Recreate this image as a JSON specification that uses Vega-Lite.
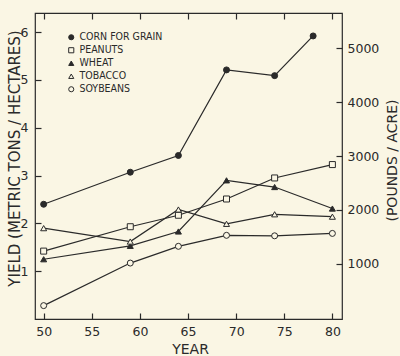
{
  "$schema": "https://vega.github.io/schema/vega-lite/v6.json",
  "width": 307,
  "height": 306,
  "autosize": "none",
  "padding": {"left": 35, "top": 13, "right": 58, "bottom": 37},
  "background": "#faf6e4",
  "title": {"text": "U.S.A.", "anchor": "start", "dx": 77, "offset": 11, "fontSize": 13, "font": "DejaVu Sans", "fontWeight": "normal", "color": "#2a2a2a"},
  "config": {
    "view": {"stroke": "#2a2a2a", "strokeWidth": 1.2},
    "axis": {
      "domain": false, "grid": false,
      "tickColor": "#2a2a2a", "tickSize": -6, "tickWidth": 1.2,
      "labelFont": "DejaVu Sans", "labelFontSize": 12.5, "labelColor": "#2a2a2a",
      "titleFont": "DejaVu Sans", "titleFontWeight": "normal", "titleColor": "#2a2a2a", "titleFontSize": 14
    },
    "legend": {
      "symbolSize": 26, "symbolStrokeWidth": 1,
      "labelFont": "Liberation Sans Narrow, DejaVu Sans Condensed, Liberation Sans",
      "labelFontSize": 10.5, "labelColor": "#2a2a2a", "labelOffset": 3,
      "rowPadding": 2, "padding": 0
    }
  },
  "datasets": {
    "yields": [
      {"crop": "CORN FOR GRAIN", "year": 50, "yield": 2.40},
      {"crop": "CORN FOR GRAIN", "year": 59, "yield": 3.07},
      {"crop": "CORN FOR GRAIN", "year": 64, "yield": 3.42},
      {"crop": "CORN FOR GRAIN", "year": 69, "yield": 5.21},
      {"crop": "CORN FOR GRAIN", "year": 74, "yield": 5.09},
      {"crop": "CORN FOR GRAIN", "year": 78, "yield": 5.92},
      {"crop": "PEANUTS", "year": 50, "yield": 1.42},
      {"crop": "PEANUTS", "year": 59, "yield": 1.93},
      {"crop": "PEANUTS", "year": 64, "yield": 2.17},
      {"crop": "PEANUTS", "year": 69, "yield": 2.51},
      {"crop": "PEANUTS", "year": 74, "yield": 2.95},
      {"crop": "PEANUTS", "year": 80, "yield": 3.23},
      {"crop": "WHEAT", "year": 50, "yield": 1.25},
      {"crop": "WHEAT", "year": 59, "yield": 1.53},
      {"crop": "WHEAT", "year": 64, "yield": 1.83},
      {"crop": "WHEAT", "year": 69, "yield": 2.90},
      {"crop": "WHEAT", "year": 74, "yield": 2.76},
      {"crop": "WHEAT", "year": 80, "yield": 2.31},
      {"crop": "TOBACCO", "year": 50, "yield": 1.90},
      {"crop": "TOBACCO", "year": 59, "yield": 1.62},
      {"crop": "TOBACCO", "year": 64, "yield": 2.29},
      {"crop": "TOBACCO", "year": 69, "yield": 1.99},
      {"crop": "TOBACCO", "year": 74, "yield": 2.19},
      {"crop": "TOBACCO", "year": 80, "yield": 2.14},
      {"crop": "SOYBEANS", "year": 50, "yield": 0.28},
      {"crop": "SOYBEANS", "year": 59, "yield": 1.17},
      {"crop": "SOYBEANS", "year": 64, "yield": 1.52},
      {"crop": "SOYBEANS", "year": 69, "yield": 1.75},
      {"crop": "SOYBEANS", "year": 74, "yield": 1.74},
      {"crop": "SOYBEANS", "year": 80, "yield": 1.79}
    ],
    "lbs": [{"lb": 0}, {"lb": 5000}]
  },
  "layer": [
    {
      "data": {"name": "yields"},
      "layer": [
        {
          "mark": {"type": "line", "color": "#2a2a2a", "strokeWidth": 1.2},
          "encoding": {
            "x": {"field": "year", "type": "quantitative", "scale": {"domain": [49.1, 81], "nice": false, "zero": false},
                  "axis": {"orient": "bottom", "values": [50, 55, 60, 65, 70, 75, 80], "labelPadding": 12, "title": "YEAR", "titleY": 23, "titleX": 155}},
            "y": {"field": "yield", "type": "quantitative", "scale": {"domain": [0, 6.4], "nice": false},
                  "axis": {"orient": "left", "values": [1, 2, 3, 4, 5, 6], "labelPadding": 13, "title": "YIELD (METRIC TONS / HECTARES)", "titleFontSize": 15,
                           "titleX": -21, "titleY": 145, "titleBaseline": "middle", "titleAlign": "center", "titleAngle": -90}},
            "detail": {"field": "crop"}
          }
        },
        {
          "mark": {"type": "point", "filled": true, "size": 36, "strokeWidth": 1, "opacity": 1},
          "encoding": {
            "x": {"field": "year", "type": "quantitative",
                  "axis": {"orient": "top", "values": [50, 55, 60, 65, 70, 75, 80], "labels": false, "title": null}},
            "y": {"field": "yield", "type": "quantitative"},
            "shape": {"field": "crop", "type": "nominal",
                      "scale": {"domain": ["CORN FOR GRAIN", "PEANUTS", "WHEAT", "TOBACCO", "SOYBEANS"],
                                "range": ["circle", "square", "triangle-up", "triangle-up", "circle"]},
                      "legend": {"title": null, "orient": "none", "legendX": 31, "legendY": 19}},
            "fill": {"field": "crop", "type": "nominal",
                     "scale": {"domain": ["CORN FOR GRAIN", "PEANUTS", "WHEAT", "TOBACCO", "SOYBEANS"],
                               "range": ["#2a2a2a", "#faf6e4", "#2a2a2a", "#faf6e4", "#faf6e4"]},
                     "legend": {"title": null, "orient": "none", "legendX": 31, "legendY": 19}},
            "stroke": {"field": "crop", "type": "nominal",
                       "scale": {"domain": ["CORN FOR GRAIN", "PEANUTS", "WHEAT", "TOBACCO", "SOYBEANS"],
                                 "range": ["#2a2a2a", "#2a2a2a", "#2a2a2a", "#2a2a2a", "#2a2a2a"]},
                       "legend": {"title": null, "orient": "none", "legendX": 31, "legendY": 19}}
          }
        }
      ]
    },
    {
      "data": {"name": "lbs"},
      "mark": {"type": "point", "opacity": 0},
      "encoding": {
        "x": {"datum": 65, "type": "quantitative", "axis": null},
        "y": {"field": "lb", "type": "quantitative", "scale": {"domain": [-20, 5650], "nice": false, "zero": false},
              "axis": {"orient": "right", "values": [1000, 2000, 3000, 4000, 5000], "format": "d", "labelPadding": 11, "title": "(POUNDS / ACRE)",
                       "titleX": 50, "titleY": 147, "titleBaseline": "middle", "titleAlign": "center", "titleAngle": -90}}
      }
    }
  ],
  "resolve": {"scale": {"y": "independent"}}
}
